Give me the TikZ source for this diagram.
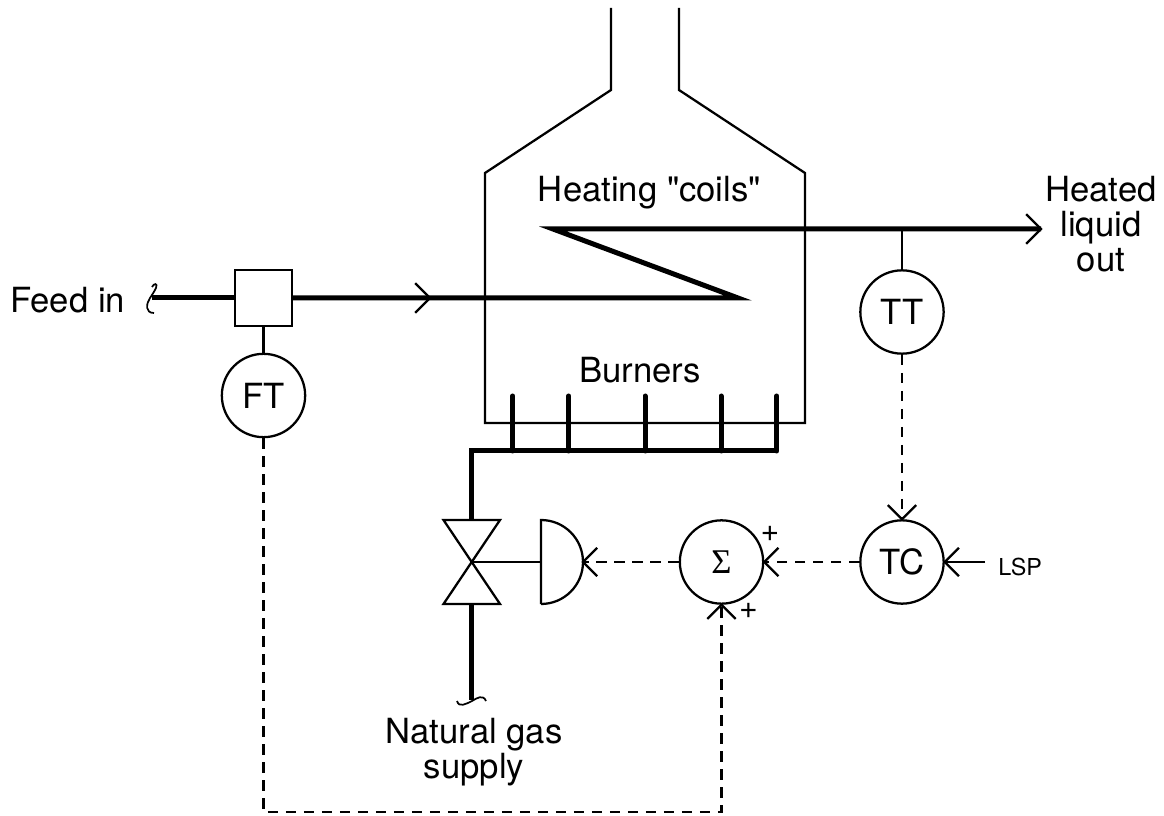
\documentclass[tikz,border=0pt]{standalone}
\usepackage{fontspec}
\setmainfont{TeX Gyre Heros}
\newfontfamily\rawfont{TeX Gyre Heros}
\newfontfamily\sigfont{Liberation Serif}
\tikzset{
 x=0.75pt,y=-0.75pt,
 thinl/.style={line width=1.7pt,line join=miter},
 proc/.style={line width=3.75pt},
 sig/.style={line width=1.7pt,dash pattern=on 8pt off 5.5pt},
 inst/.style={circle,draw,line width=1.7pt,minimum size=62.5pt,inner sep=0pt,fill=white,font=\fontsize{26}{28}\selectfont},
 lab/.style={font=\fontsize{26}{26.25}\selectfont,align=center,inner sep=0pt},
 tiny/.style={font=\fontsize{17.5}{20}\selectfont,inner sep=0pt},
 plusmark/.style={inner sep=0pt,font=\fontsize{24}{26}\selectfont},
}
\newcommand{\chev}[3]{\draw[thinl] (#1)++(#2+45:#3) -- (#1) -- ++(#2-45:#3);}
\begin{document}
\begin{tikzpicture}
\useasboundingbox (0,0) rectangle (1164,816);
% furnace
\draw[thinl] (611,8) -- (611,90) -- (485,173) -- (485,423) -- (805,423) -- (805,173) -- (679,90) -- (679,8);
% nodes
\node[draw,thinl,minimum size=42.5pt,inner sep=0pt] (fe) at (263.5,298) {};
\node[inst] (ft) at (263.5,395.5) {FT};
\node[inst] (tt) at (902,312) {TT};
\node[inst] (tc) at (902,562) {TC};
\node[inst] (sum) at (721.5,562) {\fontsize{26}{28}\selectfont\sigfont Σ};
\coordinate (feedstart) at (152,298);
\coordinate (turn1) at (738,298);
\coordinate (turn2) at (553,229);
\coordinate (outend) at (1041,229);
\coordinate (ttap) at (902,229);
\coordinate (manL) at (471.7,451);
\coordinate (manR) at (778,451);
\coordinate (vc) at (471.7,562);
\coordinate (gasend) at (471.7,700);
\coordinate (lspend) at (985,562);
\coordinate (actL) at (541,562);
\coordinate (actR) at (583,562);
\coordinate (botL) at (263.5,812);
\coordinate (botR) at (721.5,812);
% process lines
\draw[proc,shorten >=-1pt] (feedstart) -- (fe.west);
\draw[proc,line join=miter,miter limit=20,shorten <=-1pt] (fe.east) -- (turn1) -- (turn2) -- (outend);
\chev{outend}{180}{21}
\chev{430,298}{180}{21}
\draw[thinl] (fe) -- (ft);
\draw[thinl] (ttap) -- (tt);
% break marks
\draw[line width=1.3pt] (152,287) .. controls (154,283) and (158,283) .. (156,288) .. controls (154,292) and (152,295) .. (150,298) .. controls (146,304) and (145,313) .. (154,313);
\draw[line width=1.3pt] (457,701) .. controls (459,708) and (466,704) .. (472,701) .. controls (477,698) and (483,694) .. (486,701);
% burners
\draw[proc,line join=miter] (471.7,521) -- (manL) -- (manR);
\foreach \bx in {512.7,568.7,645,721,776.7} \draw[proc,line cap=round] (\bx,451) -- (\bx,396);
% valve
\draw[thinl,fill=white] (vc) -- (443.5,520) -- (500,520) -- cycle;
\draw[thinl,fill=white] (vc) -- (443.5,604) -- (500,604) -- cycle;
\draw[proc] (471.7,604) -- (gasend);
% actuator
\draw[thinl] (vc) -- (actL);
\draw[thinl] (541,604) -- (541,520) arc[start angle=-90,end angle=90,radius=42];
% signals
\draw[sig] (tt) -- (tc);
\chev{tc.north}{-90}{20}
\draw[sig] (tc) -- (sum);
\chev{sum.east}{0}{20}
\draw[sig] (sum) -- (actR);
\chev{actR}{0}{20}
\draw[sig] (ft) -- (botL) -- (botR) -- (sum);
\chev{sum.south}{90}{20}
\draw[thinl] (lspend) -- (tc);
\chev{tc.east}{0}{20}
% text
\node[lab,anchor=west] (feedlab) at (10,300.5) {Feed in};
\node[lab] (coils) at (649.5,193) {\rawfont Heating "coils"};
\node[lab] (heated) at (1101,224.5) {Heated\\liquid\\out};
\node[lab] (burners) at (640,370) {Burners};
\node[lab] (gas) at (474,752) {Natural gas\\supply};
\node[tiny,anchor=west] (lsp) at (998,567) {LSP};
\node[plusmark] (p1) at (770,534) {+};
\node[plusmark] (p2) at (748.5,611) {+};
\end{tikzpicture}
\end{document}
